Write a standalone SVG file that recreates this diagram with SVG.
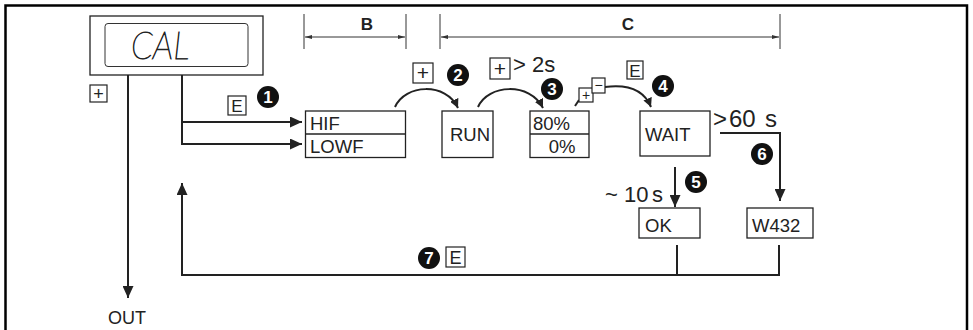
<svg xmlns="http://www.w3.org/2000/svg" width="973" height="330" viewBox="0 0 973 330">
<style>
.t{font-family:"Liberation Sans",Arial,sans-serif;fill:#222}
.box{fill:#fff;stroke:#222;stroke-width:1.3}
.key{fill:#fff;stroke:#222;stroke-width:1.2}
.conn{fill:none;stroke:#222;stroke-width:2}
.dim{fill:none;stroke:#333;stroke-width:1}
.badge{fill:#111}
.bn{font-family:"Liberation Sans",Arial,sans-serif;font-weight:bold;fill:#fff;font-size:17px;text-anchor:middle}
.lbl{font-size:18.5px}
.big{font-size:22px}
</style>
<defs>
<marker id="ah" markerUnits="userSpaceOnUse" markerWidth="13" markerHeight="11" refX="12" refY="5.5" orient="auto"><path d="M0,0 L12,5.5 L0,11 z" fill="#222"/></marker>
<marker id="ahs" markerUnits="userSpaceOnUse" markerWidth="10" markerHeight="9" refX="9" refY="4.5" orient="auto"><path d="M0,0 L9,4.5 L0,9 z" fill="#222"/></marker>
<marker id="ad" markerUnits="userSpaceOnUse" markerWidth="8" markerHeight="5" refX="7" refY="2.5" orient="auto-start-reverse"><path d="M0,0.5 L7,2.5 L0,4.5 z" fill="#333"/></marker>
</defs>
<rect x="0" y="0" width="973" height="330" fill="#fff"/>
<path d="M5.5,332 V5.5 H967 V332" fill="none" stroke="#000" stroke-width="2.5"/>

<g id="dimensions">
<path class="dim" d="M304,14 V49 M406,14 V49 M440,14 V49 M780,14 V49"/>
<path class="dim" d="M305,37 H405" marker-start="url(#ad)" marker-end="url(#ad)"/>
<path class="dim" d="M441,37 H779" marker-start="url(#ad)" marker-end="url(#ad)"/>
<text class="t" x="367" y="30" font-size="17" font-weight="bold" text-anchor="middle">B</text>
<text class="t" x="628" y="30" font-size="17" font-weight="bold" text-anchor="middle">C</text>
</g>

<g id="connectors">
<path class="conn" d="M128,75 V298" marker-end="url(#ah)"/>
<path class="conn" d="M182,75 V144 H302" marker-end="url(#ah)"/>
<path class="conn" d="M182,122 H302" marker-end="url(#ah)"/>
<path class="conn" d="M395,107 C405,84 446,82 458,108" marker-end="url(#ahs)"/>
<path class="conn" d="M478,107 C488,84 530,82 543,108" marker-end="url(#ahs)"/>
<path class="conn" d="M575,106 L579,100"/>
<path class="conn" d="M605,87 C628,84 644,90 651,107" marker-end="url(#ahs)"/>
<path class="conn" d="M720,133 H780 V201" marker-end="url(#ah)"/>
<path class="conn" d="M675,167 V207" marker-end="url(#ah)"/>
<path class="conn" d="M677,245 V275 M779,245 V275 H182 V183" marker-end="url(#ah)"/>
</g>

<g id="display">
<rect class="box" x="90" y="16" width="173" height="59"/>
<rect x="105" y="23.5" width="143" height="43" rx="3" fill="none" stroke="#333" stroke-width="1"/>
<text x="160" y="59" font-family="'DejaVu Sans ExtraLight','Lato','DejaVu Sans',sans-serif" font-weight="200" fill="#222" stroke="#222" stroke-width="0.9" font-size="37" font-style="italic" text-anchor="middle" textLength="58" lengthAdjust="spacingAndGlyphs">CAL</text>
</g>

<g id="key-plus-out">
<rect class="key" x="90" y="85" width="17" height="17"/>
<text class="t" x="98.5" y="99.5" font-size="18" text-anchor="middle">+</text>
<text class="t" x="127" y="324" font-size="18" text-anchor="middle">OUT</text>
</g>

<g id="step1">
<rect class="key" x="228" y="96" width="18" height="19"/>
<text class="t" x="237" y="112" font-size="17" text-anchor="middle">E</text>
<circle class="badge" cx="268" cy="97" r="11"/><text class="bn" x="268" y="103">1</text>
</g>

<g id="hif-lowf">
<rect class="box" x="305.5" y="111" width="100" height="46.5"/>
<path d="M305.5,134 H405.5" stroke="#222" stroke-width="1.3"/>
<text class="t lbl" x="310" y="130">HIF</text>
<text class="t lbl" x="310" y="153">LOWF</text>
</g>

<g id="step2">
<rect class="key" x="413" y="63" width="20" height="20"/>
<text class="t" x="423" y="80" font-size="21" text-anchor="middle">+</text>
<circle class="badge" cx="458" cy="75" r="11"/><text class="bn" x="458" y="81">2</text>
</g>

<g id="run">
<rect class="box" x="442" y="111" width="51" height="46.5"/>
<text class="t lbl" x="470" y="141" text-anchor="middle">RUN</text>
</g>

<g id="step3">
<rect class="key" x="490" y="58" width="20" height="21"/>
<text class="t" x="500" y="75.5" font-size="21" text-anchor="middle">+</text>
<text class="t big" y="72"><tspan x="513">&gt;</tspan><tspan x="532">2s</tspan></text>
<circle class="badge" cx="552" cy="89" r="11"/><text class="bn" x="552" y="95">3</text>
</g>

<g id="percent">
<rect class="box" x="530" y="111" width="59" height="46.5"/>
<path d="M530,134 H589" stroke="#222" stroke-width="1.3"/>
<text class="t lbl" x="533" y="130">80%</text>
<text class="t lbl" x="562" y="153" text-anchor="middle">0%</text>
</g>

<g id="step4">
<rect class="key" x="579" y="88" width="14" height="14"/>
<text class="t" x="586" y="100" font-size="14" text-anchor="middle">+</text>
<rect class="key" x="592" y="78" width="13" height="15"/>
<text class="t" x="598.5" y="89.5" font-size="14" text-anchor="middle">−</text>
<rect class="key" x="627" y="61" width="16" height="18"/>
<text class="t" x="635" y="76.5" font-size="17" text-anchor="middle">E</text>
<circle class="badge" cx="663" cy="86" r="11"/><text class="bn" x="663" y="92">4</text>
</g>

<g id="wait">
<rect class="box" x="640" y="111" width="70" height="45"/>
<text class="t lbl" x="645" y="141">WAIT</text>
</g>

<g id="step6">
<text class="t" y="127" style="font-size:24px"><tspan x="713">&gt;</tspan><tspan x="729">60</tspan><tspan x="765">s</tspan></text>
<circle class="badge" cx="762" cy="154" r="11"/><text class="bn" x="762" y="160">6</text>
</g>

<g id="step5">
<text class="t big" y="202"><tspan x="605">~</tspan><tspan x="624">10</tspan><tspan x="652">s</tspan></text>
<circle class="badge" cx="696" cy="182" r="11"/><text class="bn" x="696" y="188">5</text>
</g>

<g id="ok">
<rect class="box" x="639" y="208" width="61" height="30"/>
<text class="t lbl" x="645" y="232">OK</text>
</g>

<g id="w432">
<rect class="box" x="747" y="208" width="66" height="30"/>
<text class="t lbl" x="752" y="232">W432</text>
</g>

<g id="step7">
<circle class="badge" cx="429" cy="258" r="11"/><text class="bn" x="429" y="264">7</text>
<rect class="key" x="446" y="247" width="19" height="20"/>
<text class="t" x="455.5" y="263.5" font-size="18" text-anchor="middle">E</text>
</g>
</svg>
